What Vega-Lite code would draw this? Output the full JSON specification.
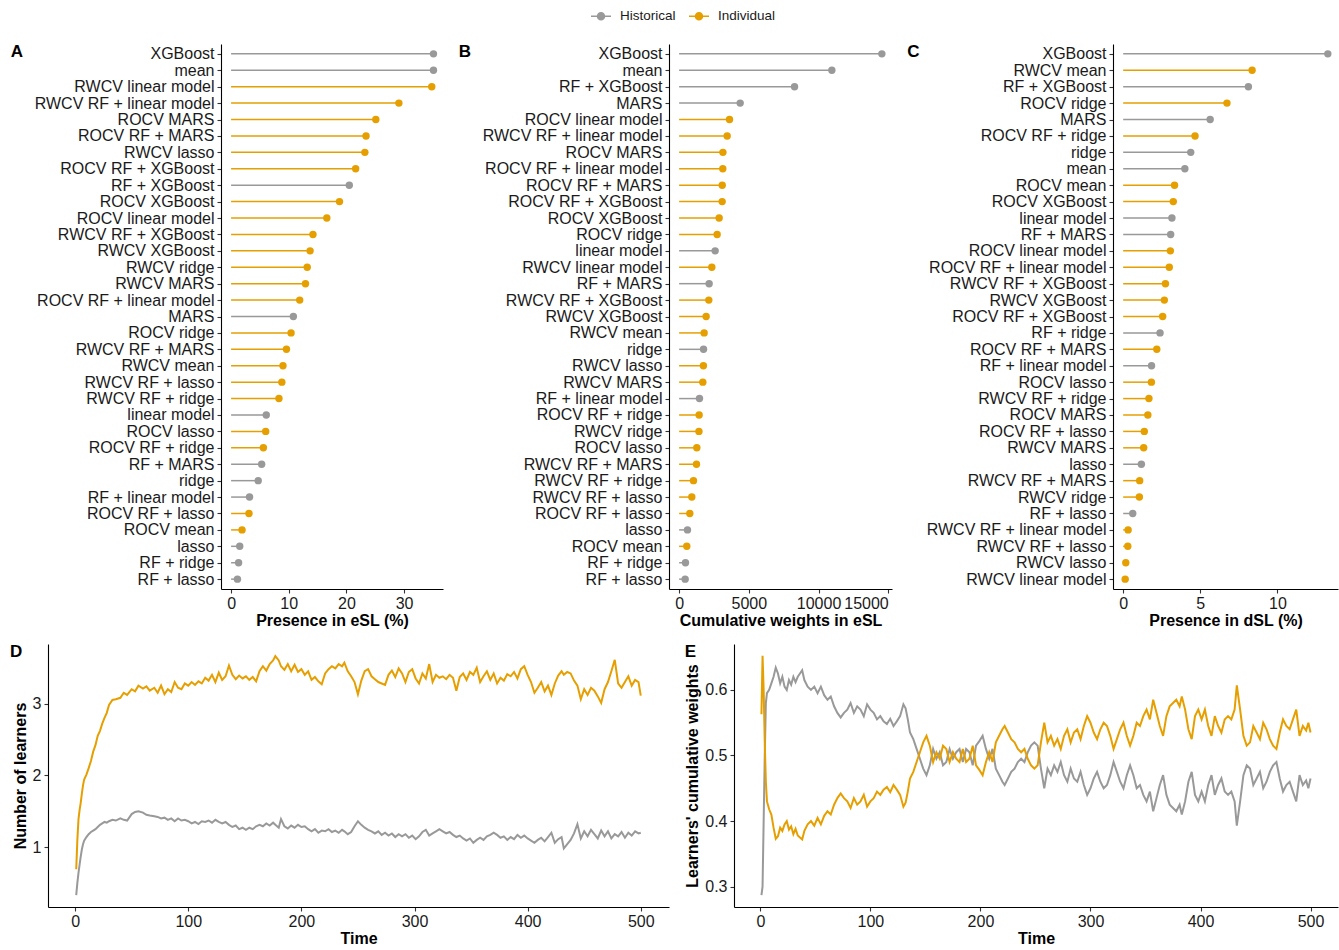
{
  "$schema": "https://vega.github.io/schema/vega-lite/v6.json",
  "padding": {"left": 10, "top": 5, "right": 0, "bottom": 0},
  "autosize": {"type": "pad"},
  "config": {
    "font": "Liberation Sans",
    "view": {"stroke": null},
    "axis": {"grid": false, "domainColor": "#000000", "domainWidth": 1.1, "tickColor": "#333333", "tickWidth": 1.1, "tickSize": 4, "labelFontSize": 16, "labelColor": "#1a1a1a", "labelFont": "Liberation Sans", "titleFont": "Liberation Sans", "titleFontSize": 16, "titleFontWeight": "bold", "titleColor": "#000000", "labelFlush": false, "labelOverlap": false, "labelBound": false, "labelLimit": 400},
    "axisX": {"labelPadding": 2, "titlePadding": 1},
    "axisY": {"labelPadding": 3, "titlePadding": 4},
    "title": {"fontSize": 17, "fontWeight": "bold", "anchor": "start", "frame": "bounds", "baseline": "top", "offset": 0, "dy": 21, "color": "#000000", "font": "Liberation Sans"},
    "legend": {"padding": 0, "labelFontSize": 13.5, "labelColor": "#1a1a1a", "labelFont": "Liberation Sans", "labelOffset": 8, "columnPadding": 10, "symbolSize": 400, "symbolStrokeWidth": 1.5}
  },
  "datasets": {
    "A": [
      {"learner": "XGBoost", "value": 35.1, "type": "Historical"},
      {"learner": "mean", "value": 35.1, "type": "Historical"},
      {"learner": "RWCV linear model", "value": 34.8, "type": "Individual"},
      {"learner": "RWCV RF +  linear model", "value": 29.1, "type": "Individual"},
      {"learner": "ROCV MARS", "value": 25.1, "type": "Individual"},
      {"learner": "ROCV RF +  MARS", "value": 23.4, "type": "Individual"},
      {"learner": "RWCV lasso", "value": 23.2, "type": "Individual"},
      {"learner": "ROCV RF +  XGBoost", "value": 21.6, "type": "Individual"},
      {"learner": "RF +  XGBoost", "value": 20.5, "type": "Historical"},
      {"learner": "ROCV XGBoost", "value": 18.8, "type": "Individual"},
      {"learner": "ROCV linear model", "value": 16.6, "type": "Individual"},
      {"learner": "RWCV RF +  XGBoost", "value": 14.2, "type": "Individual"},
      {"learner": "RWCV XGBoost", "value": 13.7, "type": "Individual"},
      {"learner": "RWCV ridge", "value": 13.2, "type": "Individual"},
      {"learner": "RWCV MARS", "value": 12.9, "type": "Individual"},
      {"learner": "ROCV RF +  linear model", "value": 11.9, "type": "Individual"},
      {"learner": "MARS", "value": 10.8, "type": "Historical"},
      {"learner": "ROCV ridge", "value": 10.4, "type": "Individual"},
      {"learner": "RWCV RF +  MARS", "value": 9.6, "type": "Individual"},
      {"learner": "RWCV mean", "value": 9.0, "type": "Individual"},
      {"learner": "RWCV RF +  lasso", "value": 8.8, "type": "Individual"},
      {"learner": "RWCV RF +  ridge", "value": 8.3, "type": "Individual"},
      {"learner": "linear model", "value": 6.1, "type": "Historical"},
      {"learner": "ROCV lasso", "value": 6.0, "type": "Individual"},
      {"learner": "ROCV RF +  ridge", "value": 5.6, "type": "Individual"},
      {"learner": "RF +  MARS", "value": 5.3, "type": "Historical"},
      {"learner": "ridge", "value": 4.7, "type": "Historical"},
      {"learner": "RF +  linear model", "value": 3.2, "type": "Historical"},
      {"learner": "ROCV RF +  lasso", "value": 3.1, "type": "Individual"},
      {"learner": "ROCV mean", "value": 1.9, "type": "Individual"},
      {"learner": "lasso", "value": 1.5, "type": "Historical"},
      {"learner": "RF +  ridge", "value": 1.3, "type": "Historical"},
      {"learner": "RF +  lasso", "value": 1.1, "type": "Historical"}
    ],
    "B": [
      {"learner": "XGBoost", "value": 14540, "type": "Historical"},
      {"learner": "mean", "value": 10954, "type": "Historical"},
      {"learner": "RF +  XGBoost", "value": 8278, "type": "Historical"},
      {"learner": "MARS", "value": 4378, "type": "Historical"},
      {"learner": "ROCV linear model", "value": 3613, "type": "Individual"},
      {"learner": "RWCV RF +  linear model", "value": 3445, "type": "Individual"},
      {"learner": "ROCV MARS", "value": 3140, "type": "Individual"},
      {"learner": "ROCV RF +  linear model", "value": 3130, "type": "Individual"},
      {"learner": "ROCV RF +  MARS", "value": 3090, "type": "Individual"},
      {"learner": "ROCV RF +  XGBoost", "value": 3085, "type": "Individual"},
      {"learner": "ROCV XGBoost", "value": 2870, "type": "Individual"},
      {"learner": "ROCV ridge", "value": 2726, "type": "Individual"},
      {"learner": "linear model", "value": 2583, "type": "Historical"},
      {"learner": "RWCV linear model", "value": 2344, "type": "Individual"},
      {"learner": "RF +  MARS", "value": 2152, "type": "Historical"},
      {"learner": "RWCV RF +  XGBoost", "value": 2128, "type": "Individual"},
      {"learner": "RWCV XGBoost", "value": 1937, "type": "Individual"},
      {"learner": "RWCV mean", "value": 1793, "type": "Individual"},
      {"learner": "ridge", "value": 1750, "type": "Historical"},
      {"learner": "RWCV lasso", "value": 1740, "type": "Individual"},
      {"learner": "RWCV MARS", "value": 1698, "type": "Individual"},
      {"learner": "RF +  linear model", "value": 1459, "type": "Historical"},
      {"learner": "ROCV RF +  ridge", "value": 1435, "type": "Individual"},
      {"learner": "RWCV ridge", "value": 1420, "type": "Individual"},
      {"learner": "ROCV lasso", "value": 1268, "type": "Individual"},
      {"learner": "RWCV RF +  MARS", "value": 1244, "type": "Individual"},
      {"learner": "RWCV RF +  ridge", "value": 1029, "type": "Individual"},
      {"learner": "RWCV RF +  lasso", "value": 909, "type": "Individual"},
      {"learner": "ROCV RF +  lasso", "value": 765, "type": "Individual"},
      {"learner": "lasso", "value": 598, "type": "Historical"},
      {"learner": "ROCV mean", "value": 550, "type": "Individual"},
      {"learner": "RF +  ridge", "value": 455, "type": "Historical"},
      {"learner": "RF +  lasso", "value": 431, "type": "Historical"}
    ],
    "C": [
      {"learner": "XGBoost", "value": 13.27, "type": "Historical"},
      {"learner": "RWCV mean", "value": 8.36, "type": "Individual"},
      {"learner": "RF + XGBoost", "value": 8.12, "type": "Historical"},
      {"learner": "ROCV ridge", "value": 6.73, "type": "Individual"},
      {"learner": "MARS", "value": 5.64, "type": "Historical"},
      {"learner": "ROCV RF + ridge", "value": 4.66, "type": "Individual"},
      {"learner": "ridge", "value": 4.38, "type": "Historical"},
      {"learner": "mean", "value": 4.0, "type": "Historical"},
      {"learner": "ROCV mean", "value": 3.33, "type": "Individual"},
      {"learner": "ROCV XGBoost", "value": 3.25, "type": "Individual"},
      {"learner": "linear model", "value": 3.16, "type": "Historical"},
      {"learner": "RF + MARS", "value": 3.08, "type": "Historical"},
      {"learner": "ROCV linear model", "value": 3.06, "type": "Individual"},
      {"learner": "ROCV RF + linear model", "value": 2.99, "type": "Individual"},
      {"learner": "RWCV RF + XGBoost", "value": 2.74, "type": "Individual"},
      {"learner": "RWCV XGBoost", "value": 2.67, "type": "Individual"},
      {"learner": "ROCV RF + XGBoost", "value": 2.56, "type": "Individual"},
      {"learner": "RF + ridge", "value": 2.39, "type": "Historical"},
      {"learner": "ROCV RF + MARS", "value": 2.18, "type": "Individual"},
      {"learner": "RF + linear model", "value": 1.84, "type": "Historical"},
      {"learner": "ROCV lasso", "value": 1.83, "type": "Individual"},
      {"learner": "RWCV RF + ridge", "value": 1.67, "type": "Individual"},
      {"learner": "ROCV MARS", "value": 1.6, "type": "Individual"},
      {"learner": "ROCV RF + lasso", "value": 1.37, "type": "Individual"},
      {"learner": "RWCV MARS", "value": 1.33, "type": "Individual"},
      {"learner": "lasso", "value": 1.18, "type": "Historical"},
      {"learner": "RWCV RF + MARS", "value": 1.07, "type": "Individual"},
      {"learner": "RWCV ridge", "value": 1.05, "type": "Individual"},
      {"learner": "RF + lasso", "value": 0.62, "type": "Historical"},
      {"learner": "RWCV RF + linear model", "value": 0.32, "type": "Individual"},
      {"learner": "RWCV RF + lasso", "value": 0.3, "type": "Individual"},
      {"learner": "RWCV lasso", "value": 0.17, "type": "Individual"},
      {"learner": "RWCV linear model", "value": 0.13, "type": "Individual"}
    ],
    "D": [
      {"t":1,"Historical":0.33,"Individual":0.69},{"t":2,"Historical":0.5,"Individual":1.1},{"t":3,"Historical":0.64,"Individual":1.39},{"t":4,"Historical":0.76,"Individual":1.52},{"t":5,"Historical":0.87,"Individual":1.62},{"t":6,"Historical":0.97,"Individual":1.75},{"t":7,"Historical":1.04,"Individual":1.86},{"t":8,"Historical":1.09,"Individual":1.94},{"t":10,"Historical":1.14,"Individual":2.01},{"t":12,"Historical":1.18,"Individual":2.1},{"t":14,"Historical":1.21,"Individual":2.2},{"t":16,"Historical":1.23,"Individual":2.33},{"t":18,"Historical":1.25,"Individual":2.42},{"t":20,"Historical":1.28,"Individual":2.55},{"t":22,"Historical":1.31,"Individual":2.62},{"t":24,"Historical":1.33,"Individual":2.72},{"t":26,"Historical":1.35,"Individual":2.8},{"t":28,"Historical":1.34,"Individual":2.87},{"t":30,"Historical":1.36,"Individual":2.98},{"t":33,"Historical":1.38,"Individual":3.05},{"t":36,"Historical":1.37,"Individual":3.06},{"t":40,"Historical":1.4,"Individual":3.08},{"t":43,"Historical":1.38,"Individual":3.15},{"t":46,"Historical":1.37,"Individual":3.12},{"t":50,"Historical":1.46,"Individual":3.2},{"t":53,"Historical":1.49,"Individual":3.17},{"t":56,"Historical":1.5,"Individual":3.25},{"t":60,"Historical":1.48,"Individual":3.21},{"t":63,"Historical":1.45,"Individual":3.24},{"t":66,"Historical":1.44,"Individual":3.18},{"t":70,"Historical":1.43,"Individual":3.22},{"t":73,"Historical":1.42,"Individual":3.15},{"t":76,"Historical":1.4,"Individual":3.25},{"t":79,"Historical":1.41,"Individual":3.13},{"t":82,"Historical":1.38,"Individual":3.2},{"t":85,"Historical":1.4,"Individual":3.16},{"t":88,"Historical":1.36,"Individual":3.3},{"t":91,"Historical":1.4,"Individual":3.22},{"t":94,"Historical":1.37,"Individual":3.2},{"t":97,"Historical":1.38,"Individual":3.28},{"t":100,"Historical":1.36,"Individual":3.25},{"t":103,"Historical":1.33,"Individual":3.3},{"t":106,"Historical":1.35,"Individual":3.26},{"t":109,"Historical":1.32,"Individual":3.31},{"t":112,"Historical":1.36,"Individual":3.28},{"t":115,"Historical":1.35,"Individual":3.36},{"t":118,"Historical":1.37,"Individual":3.32},{"t":121,"Historical":1.34,"Individual":3.4},{"t":124,"Historical":1.38,"Individual":3.3},{"t":127,"Historical":1.35,"Individual":3.43},{"t":130,"Historical":1.33,"Individual":3.33},{"t":133,"Historical":1.35,"Individual":3.38},{"t":136,"Historical":1.31,"Individual":3.53},{"t":139,"Historical":1.28,"Individual":3.4},{"t":142,"Historical":1.3,"Individual":3.34},{"t":145,"Historical":1.25,"Individual":3.39},{"t":148,"Historical":1.27,"Individual":3.35},{"t":151,"Historical":1.24,"Individual":3.38},{"t":154,"Historical":1.27,"Individual":3.33},{"t":157,"Historical":1.25,"Individual":3.37},{"t":160,"Historical":1.29,"Individual":3.31},{"t":163,"Historical":1.31,"Individual":3.45},{"t":166,"Historical":1.29,"Individual":3.52},{"t":169,"Historical":1.33,"Individual":3.46},{"t":172,"Historical":1.3,"Individual":3.55},{"t":175,"Historical":1.34,"Individual":3.6},{"t":177,"Historical":1.31,"Individual":3.66},{"t":180,"Historical":1.27,"Individual":3.6},{"t":182,"Historical":1.39,"Individual":3.52},{"t":185,"Historical":1.29,"Individual":3.47},{"t":188,"Historical":1.26,"Individual":3.55},{"t":191,"Historical":1.3,"Individual":3.45},{"t":194,"Historical":1.27,"Individual":3.54},{"t":197,"Historical":1.31,"Individual":3.44},{"t":200,"Historical":1.28,"Individual":3.48},{"t":203,"Historical":1.29,"Individual":3.4},{"t":206,"Historical":1.25,"Individual":3.45},{"t":209,"Historical":1.22,"Individual":3.33},{"t":212,"Historical":1.25,"Individual":3.37},{"t":215,"Historical":1.2,"Individual":3.31},{"t":218,"Historical":1.23,"Individual":3.27},{"t":221,"Historical":1.22,"Individual":3.42},{"t":224,"Historical":1.25,"Individual":3.48},{"t":227,"Historical":1.21,"Individual":3.52},{"t":230,"Historical":1.23,"Individual":3.49},{"t":233,"Historical":1.2,"Individual":3.55},{"t":236,"Historical":1.24,"Individual":3.52},{"t":238,"Historical":1.22,"Individual":3.57},{"t":241,"Historical":1.18,"Individual":3.45},{"t":244,"Historical":1.21,"Individual":3.38},{"t":247,"Historical":1.29,"Individual":3.3},{"t":250,"Historical":1.36,"Individual":3.13},{"t":253,"Historical":1.31,"Individual":3.32},{"t":256,"Historical":1.27,"Individual":3.45},{"t":259,"Historical":1.24,"Individual":3.48},{"t":262,"Historical":1.22,"Individual":3.38},{"t":265,"Historical":1.19,"Individual":3.34},{"t":268,"Historical":1.22,"Individual":3.3},{"t":271,"Historical":1.17,"Individual":3.28},{"t":274,"Historical":1.2,"Individual":3.26},{"t":277,"Historical":1.16,"Individual":3.4},{"t":280,"Historical":1.19,"Individual":3.46},{"t":283,"Historical":1.14,"Individual":3.37},{"t":286,"Historical":1.18,"Individual":3.49},{"t":289,"Historical":1.15,"Individual":3.42},{"t":292,"Historical":1.18,"Individual":3.3},{"t":295,"Historical":1.13,"Individual":3.44},{"t":298,"Historical":1.16,"Individual":3.48},{"t":301,"Historical":1.11,"Individual":3.35},{"t":304,"Historical":1.15,"Individual":3.28},{"t":307,"Historical":1.21,"Individual":3.42},{"t":310,"Historical":1.24,"Individual":3.35},{"t":313,"Historical":1.16,"Individual":3.55},{"t":316,"Historical":1.19,"Individual":3.3},{"t":319,"Historical":1.22,"Individual":3.4},{"t":322,"Historical":1.25,"Individual":3.36},{"t":325,"Historical":1.22,"Individual":3.38},{"t":328,"Historical":1.19,"Individual":3.34},{"t":331,"Historical":1.21,"Individual":3.4},{"t":334,"Historical":1.17,"Individual":3.36},{"t":337,"Historical":1.14,"Individual":3.18},{"t":340,"Historical":1.16,"Individual":3.37},{"t":343,"Historical":1.12,"Individual":3.42},{"t":346,"Historical":1.09,"Individual":3.33},{"t":349,"Historical":1.12,"Individual":3.44},{"t":352,"Historical":1.06,"Individual":3.4},{"t":355,"Historical":1.1,"Individual":3.5},{"t":358,"Historical":1.13,"Individual":3.3},{"t":361,"Historical":1.1,"Individual":3.38},{"t":364,"Historical":1.15,"Individual":3.45},{"t":367,"Historical":1.17,"Individual":3.33},{"t":370,"Historical":1.2,"Individual":3.42},{"t":373,"Historical":1.17,"Individual":3.28},{"t":376,"Historical":1.13,"Individual":3.36},{"t":379,"Historical":1.15,"Individual":3.32},{"t":382,"Historical":1.1,"Individual":3.41},{"t":385,"Historical":1.14,"Individual":3.38},{"t":388,"Historical":1.11,"Individual":3.44},{"t":391,"Historical":1.17,"Individual":3.35},{"t":394,"Historical":1.13,"Individual":3.48},{"t":397,"Historical":1.16,"Individual":3.52},{"t":400,"Historical":1.12,"Individual":3.4},{"t":403,"Historical":1.09,"Individual":3.3},{"t":406,"Historical":1.06,"Individual":3.15},{"t":409,"Historical":1.1,"Individual":3.22},{"t":412,"Historical":1.13,"Individual":3.3},{"t":415,"Historical":1.08,"Individual":3.17},{"t":418,"Historical":1.14,"Individual":3.25},{"t":421,"Historical":1.2,"Individual":3.12},{"t":424,"Historical":1.06,"Individual":3.28},{"t":427,"Historical":1.11,"Individual":3.39},{"t":430,"Historical":1.14,"Individual":3.45},{"t":432,"Historical":0.98,"Individual":3.4},{"t":435,"Historical":1.04,"Individual":3.44},{"t":438,"Historical":1.1,"Individual":3.42},{"t":441,"Historical":1.19,"Individual":3.32},{"t":444,"Historical":1.32,"Individual":3.25},{"t":447,"Historical":1.12,"Individual":3.06},{"t":450,"Historical":1.22,"Individual":3.2},{"t":453,"Historical":1.15,"Individual":3.12},{"t":456,"Historical":1.24,"Individual":3.22},{"t":459,"Historical":1.18,"Individual":3.18},{"t":462,"Historical":1.12,"Individual":3.1},{"t":465,"Historical":1.23,"Individual":3.01},{"t":468,"Historical":1.15,"Individual":3.2},{"t":471,"Historical":1.22,"Individual":3.3},{"t":474,"Historical":1.12,"Individual":3.45},{"t":477,"Historical":1.18,"Individual":3.61},{"t":480,"Historical":1.15,"Individual":3.28},{"t":483,"Historical":1.21,"Individual":3.22},{"t":486,"Historical":1.13,"Individual":3.3},{"t":489,"Historical":1.2,"Individual":3.38},{"t":492,"Historical":1.16,"Individual":3.25},{"t":495,"Historical":1.22,"Individual":3.33},{"t":498,"Historical":1.19,"Individual":3.3},{"t":500,"Historical":1.2,"Individual":3.11}
    ],
    "E": [
      {"t":1,"Historical":0.287,"Individual":0.563},{"t":2,"Historical":0.3,"Individual":0.652},{"t":3,"Historical":0.4,"Individual":0.6},{"t":4,"Historical":0.5,"Individual":0.52},{"t":5,"Historical":0.58,"Individual":0.46},{"t":6,"Historical":0.595,"Individual":0.43},{"t":8,"Historical":0.6,"Individual":0.418},{"t":10,"Historical":0.61,"Individual":0.41},{"t":12,"Historical":0.62,"Individual":0.39},{"t":14,"Historical":0.634,"Individual":0.373},{"t":16,"Historical":0.625,"Individual":0.377},{"t":18,"Historical":0.61,"Individual":0.39},{"t":20,"Historical":0.62,"Individual":0.385},{"t":22,"Historical":0.605,"Individual":0.395},{"t":24,"Historical":0.6,"Individual":0.4},{"t":26,"Historical":0.615,"Individual":0.387},{"t":28,"Historical":0.608,"Individual":0.392},{"t":30,"Historical":0.62,"Individual":0.38},{"t":32,"Historical":0.612,"Individual":0.388},{"t":34,"Historical":0.62,"Individual":0.378},{"t":36,"Historical":0.625,"Individual":0.375},{"t":38,"Historical":0.63,"Individual":0.372},{"t":40,"Historical":0.615,"Individual":0.385},{"t":43,"Historical":0.605,"Individual":0.395},{"t":46,"Historical":0.6,"Individual":0.4},{"t":49,"Historical":0.605,"Individual":0.393},{"t":52,"Historical":0.595,"Individual":0.405},{"t":55,"Historical":0.605,"Individual":0.395},{"t":58,"Historical":0.592,"Individual":0.408},{"t":61,"Historical":0.585,"Individual":0.415},{"t":64,"Historical":0.59,"Individual":0.41},{"t":67,"Historical":0.575,"Individual":0.425},{"t":70,"Historical":0.565,"Individual":0.435},{"t":73,"Historical":0.558,"Individual":0.442},{"t":76,"Historical":0.565,"Individual":0.435},{"t":79,"Historical":0.57,"Individual":0.43},{"t":82,"Historical":0.58,"Individual":0.42},{"t":85,"Historical":0.565,"Individual":0.435},{"t":88,"Historical":0.575,"Individual":0.425},{"t":91,"Historical":0.57,"Individual":0.43},{"t":94,"Historical":0.56,"Individual":0.44},{"t":97,"Historical":0.578,"Individual":0.422},{"t":100,"Historical":0.57,"Individual":0.43},{"t":103,"Historical":0.565,"Individual":0.435},{"t":106,"Historical":0.555,"Individual":0.445},{"t":109,"Historical":0.56,"Individual":0.44},{"t":112,"Historical":0.552,"Individual":0.448},{"t":115,"Historical":0.548,"Individual":0.452},{"t":118,"Historical":0.556,"Individual":0.444},{"t":121,"Historical":0.545,"Individual":0.455},{"t":124,"Historical":0.552,"Individual":0.448},{"t":127,"Historical":0.56,"Individual":0.44},{"t":130,"Historical":0.578,"Individual":0.422},{"t":132,"Historical":0.572,"Individual":0.428},{"t":134,"Historical":0.555,"Individual":0.445},{"t":136,"Historical":0.535,"Individual":0.465},{"t":139,"Historical":0.525,"Individual":0.475},{"t":142,"Historical":0.51,"Individual":0.49},{"t":145,"Historical":0.495,"Individual":0.505},{"t":148,"Historical":0.48,"Individual":0.52},{"t":151,"Historical":0.47,"Individual":0.53},{"t":154,"Historical":0.485,"Individual":0.515},{"t":157,"Historical":0.51,"Individual":0.49},{"t":160,"Historical":0.495,"Individual":0.505},{"t":163,"Historical":0.505,"Individual":0.495},{"t":166,"Historical":0.485,"Individual":0.515},{"t":169,"Historical":0.49,"Individual":0.51},{"t":172,"Historical":0.51,"Individual":0.49},{"t":175,"Historical":0.495,"Individual":0.505},{"t":178,"Historical":0.505,"Individual":0.495},{"t":181,"Historical":0.51,"Individual":0.49},{"t":184,"Historical":0.49,"Individual":0.51},{"t":187,"Historical":0.51,"Individual":0.49},{"t":190,"Historical":0.505,"Individual":0.495},{"t":193,"Historical":0.485,"Individual":0.515},{"t":196,"Historical":0.515,"Individual":0.485},{"t":199,"Historical":0.522,"Individual":0.478},{"t":202,"Historical":0.53,"Individual":0.47},{"t":205,"Historical":0.51,"Individual":0.49},{"t":208,"Historical":0.495,"Individual":0.505},{"t":211,"Historical":0.51,"Individual":0.49},{"t":214,"Historical":0.48,"Individual":0.52},{"t":217,"Historical":0.47,"Individual":0.53},{"t":220,"Historical":0.46,"Individual":0.54},{"t":222,"Historical":0.455,"Individual":0.545},{"t":225,"Historical":0.465,"Individual":0.535},{"t":228,"Historical":0.475,"Individual":0.525},{"t":231,"Historical":0.48,"Individual":0.52},{"t":234,"Historical":0.49,"Individual":0.51},{"t":237,"Historical":0.495,"Individual":0.505},{"t":240,"Historical":0.49,"Individual":0.51},{"t":243,"Historical":0.505,"Individual":0.495},{"t":246,"Historical":0.515,"Individual":0.485},{"t":249,"Historical":0.52,"Individual":0.48},{"t":252,"Historical":0.515,"Individual":0.485},{"t":255,"Historical":0.48,"Individual":0.52},{"t":258,"Historical":0.45,"Individual":0.55},{"t":261,"Historical":0.48,"Individual":0.52},{"t":264,"Historical":0.47,"Individual":0.53},{"t":267,"Historical":0.485,"Individual":0.515},{"t":270,"Historical":0.475,"Individual":0.525},{"t":273,"Historical":0.49,"Individual":0.51},{"t":276,"Historical":0.47,"Individual":0.53},{"t":279,"Historical":0.46,"Individual":0.54},{"t":282,"Historical":0.48,"Individual":0.52},{"t":285,"Historical":0.465,"Individual":0.535},{"t":288,"Historical":0.46,"Individual":0.54},{"t":291,"Historical":0.475,"Individual":0.525},{"t":294,"Historical":0.455,"Individual":0.545},{"t":297,"Historical":0.44,"Individual":0.56},{"t":300,"Historical":0.45,"Individual":0.55},{"t":303,"Historical":0.465,"Individual":0.535},{"t":306,"Historical":0.475,"Individual":0.525},{"t":309,"Historical":0.46,"Individual":0.54},{"t":312,"Historical":0.45,"Individual":0.55},{"t":315,"Historical":0.455,"Individual":0.545},{"t":318,"Historical":0.47,"Individual":0.53},{"t":321,"Historical":0.49,"Individual":0.51},{"t":324,"Historical":0.475,"Individual":0.525},{"t":327,"Historical":0.46,"Individual":0.54},{"t":330,"Historical":0.45,"Individual":0.55},{"t":333,"Historical":0.47,"Individual":0.53},{"t":336,"Historical":0.485,"Individual":0.515},{"t":339,"Historical":0.47,"Individual":0.53},{"t":342,"Historical":0.45,"Individual":0.55},{"t":345,"Historical":0.455,"Individual":0.545},{"t":348,"Historical":0.44,"Individual":0.56},{"t":351,"Historical":0.43,"Individual":0.57},{"t":354,"Historical":0.445,"Individual":0.555},{"t":357,"Historical":0.415,"Individual":0.585},{"t":360,"Historical":0.435,"Individual":0.565},{"t":363,"Historical":0.455,"Individual":0.545},{"t":366,"Historical":0.47,"Individual":0.53},{"t":369,"Historical":0.44,"Individual":0.56},{"t":372,"Historical":0.425,"Individual":0.575},{"t":375,"Historical":0.42,"Individual":0.58},{"t":378,"Historical":0.415,"Individual":0.585},{"t":381,"Historical":0.425,"Individual":0.575},{"t":383,"Historical":0.41,"Individual":0.59},{"t":386,"Historical":0.43,"Individual":0.57},{"t":389,"Historical":0.46,"Individual":0.54},{"t":392,"Historical":0.475,"Individual":0.525},{"t":395,"Historical":0.44,"Individual":0.56},{"t":398,"Historical":0.43,"Individual":0.57},{"t":401,"Historical":0.445,"Individual":0.555},{"t":404,"Historical":0.43,"Individual":0.57},{"t":407,"Historical":0.455,"Individual":0.545},{"t":410,"Historical":0.47,"Individual":0.53},{"t":413,"Historical":0.44,"Individual":0.56},{"t":416,"Historical":0.455,"Individual":0.545},{"t":419,"Historical":0.465,"Individual":0.535},{"t":422,"Historical":0.445,"Individual":0.555},{"t":425,"Historical":0.44,"Individual":0.56},{"t":428,"Historical":0.445,"Individual":0.555},{"t":431,"Historical":0.43,"Individual":0.57},{"t":433,"Historical":0.393,"Individual":0.607},{"t":436,"Historical":0.43,"Individual":0.57},{"t":439,"Historical":0.47,"Individual":0.53},{"t":442,"Historical":0.485,"Individual":0.515},{"t":445,"Historical":0.48,"Individual":0.52},{"t":448,"Historical":0.455,"Individual":0.545},{"t":451,"Historical":0.465,"Individual":0.535},{"t":454,"Historical":0.475,"Individual":0.525},{"t":457,"Historical":0.45,"Individual":0.55},{"t":460,"Historical":0.46,"Individual":0.54},{"t":463,"Historical":0.475,"Individual":0.525},{"t":466,"Historical":0.485,"Individual":0.515},{"t":469,"Historical":0.49,"Individual":0.51},{"t":472,"Historical":0.465,"Individual":0.535},{"t":475,"Historical":0.445,"Individual":0.555},{"t":478,"Historical":0.455,"Individual":0.545},{"t":481,"Historical":0.46,"Individual":0.54},{"t":484,"Historical":0.445,"Individual":0.555},{"t":487,"Historical":0.43,"Individual":0.57},{"t":490,"Historical":0.47,"Individual":0.53},{"t":493,"Historical":0.455,"Individual":0.545},{"t":496,"Historical":0.462,"Individual":0.538},{"t":498,"Historical":0.45,"Individual":0.55},{"t":500,"Historical":0.465,"Individual":0.535}
    ]
  },
  "spacing": 15,
  "vconcat": [
    {
      "spacing": 15,
      "hconcat": [
        {
          "data": {"name": "A"},
          "width": 222, "height": 545,
          "title": {"text": "A", "dx": -19},
          "encoding": {
            "y": {"field": "learner", "type": "nominal", "sort": null, "scale": {"type": "point", "padding": 0.6}, "axis": {"title": null}},
            "x": {"field": "value", "type": "quantitative", "scale": {"domain": [-1.75, 36.75], "nice": false, "zero": false}, "axis": {"values": [0, 10, 20, 30], "title": "Presence in eSL (%)"}},
            "color": {"field": "type", "type": "nominal", "scale": {"domain": ["Historical", "Individual"], "range": ["#999999", "#E69F00"]},
              "legend": {"title": null, "orient": "none", "direction": "horizontal", "legendX": 369, "legendY": -39,
                "encode": {"symbols": {"update": {"fill": {"scale": "color", "field": "value"}, "stroke": {"scale": "color", "field": "value"}, "strokeWidth": {"value": 1.5}, "size": {"value": 400}, "opacity": {"value": 1}, "shape": {"value": "M-1,0L1,0M-0.35,0A0.35,0.35,0,1,1,0.35,0A0.35,0.35,0,1,1,-0.35,0Z"}}}}}}
          },
          "layer": [
            {"mark": {"type": "rule", "strokeWidth": 1.5}, "encoding": {"x2": {"datum": 0}}},
            {"mark": {"type": "point", "filled": true, "size": 55, "opacity": 1}}
          ]
        },
        {
          "data": {"name": "B"},
          "width": 223, "height": 545,
          "title": {"text": "B", "dx": -19},
          "encoding": {
            "y": {"field": "learner", "type": "nominal", "sort": null, "scale": {"type": "point", "padding": 0.6}, "axis": {"title": null}},
            "x": {"field": "value", "type": "quantitative", "scale": {"domain": [-727, 15267], "nice": false, "zero": false}, "axis": {"values": [0, 5000, 10000, 15000], "format": "d", "labelFlush": 8, "title": "Cumulative weights in eSL"}},
            "color": {"field": "type", "type": "nominal", "legend": null}
          },
          "layer": [
            {"mark": {"type": "rule", "strokeWidth": 1.5}, "encoding": {"x2": {"datum": 0}}},
            {"mark": {"type": "point", "filled": true, "size": 55, "opacity": 1}}
          ]
        },
        {
          "data": {"name": "C"},
          "width": 225, "height": 545,
          "title": {"text": "C", "dx": -19},
          "encoding": {
            "y": {"field": "learner", "type": "nominal", "sort": null, "scale": {"type": "point", "padding": 0.6}, "axis": {"title": null}},
            "x": {"field": "value", "type": "quantitative", "scale": {"domain": [-0.66, 13.93], "nice": false, "zero": false}, "axis": {"values": [0, 5, 10], "title": "Presence in dSL (%)"}},
            "color": {"field": "type", "type": "nominal", "legend": null}
          },
          "layer": [
            {"mark": {"type": "rule", "strokeWidth": 1.5}, "encoding": {"x2": {"datum": 0}}},
            {"mark": {"type": "point", "filled": true, "size": 55, "opacity": 1}}
          ]
        }
      ]
    },
    {
      "spacing": -158,
      "hconcat": [
        {
          "data": {"name": "D"},
          "width": 448, "height": 263,
          "title": {"text": "D", "dx": -2},
          "transform": [{"fold": ["Historical", "Individual"], "as": ["type", "value"]}],
          "mark": {"type": "line", "strokeWidth": 2},
          "encoding": {
            "x": {"field": "t", "type": "quantitative", "scale": {"domain": [-23.95, 524.95], "range": [-173, 448], "nice": false, "zero": false}, "axis": {"values": [0, 100, 200, 300, 400, 500], "title": "Time"}},
            "y": {"field": "value", "type": "quantitative", "scale": {"domain": [0.165, 3.83], "nice": false, "zero": false}, "axis": {"values": [1, 2, 3], "offset": 173, "title": "Number of learners"}},
            "color": {"field": "type", "type": "nominal", "legend": null}
          }
        },
        {
          "data": {"name": "E"},
          "width": 495, "height": 263,
          "title": {"text": "E", "dx": 0},
          "transform": [{"fold": ["Historical", "Individual"], "as": ["type", "value"]}],
          "mark": {"type": "line", "strokeWidth": 2},
          "encoding": {
            "x": {"field": "t", "type": "quantitative", "scale": {"domain": [-23.95, 524.95], "range": [-109, 495], "nice": false, "zero": false}, "axis": {"values": [0, 100, 200, 300, 400, 500], "title": "Time"}},
            "y": {"field": "value", "type": "quantitative", "scale": {"domain": [0.269, 0.67], "nice": false, "zero": false}, "axis": {"values": [0.3, 0.4, 0.5, 0.6], "format": ".1f", "offset": 109, "title": "Learners' cumulative weights"}},
            "color": {"field": "type", "type": "nominal", "legend": null}
          }
        }
      ]
    }
  ]
}
